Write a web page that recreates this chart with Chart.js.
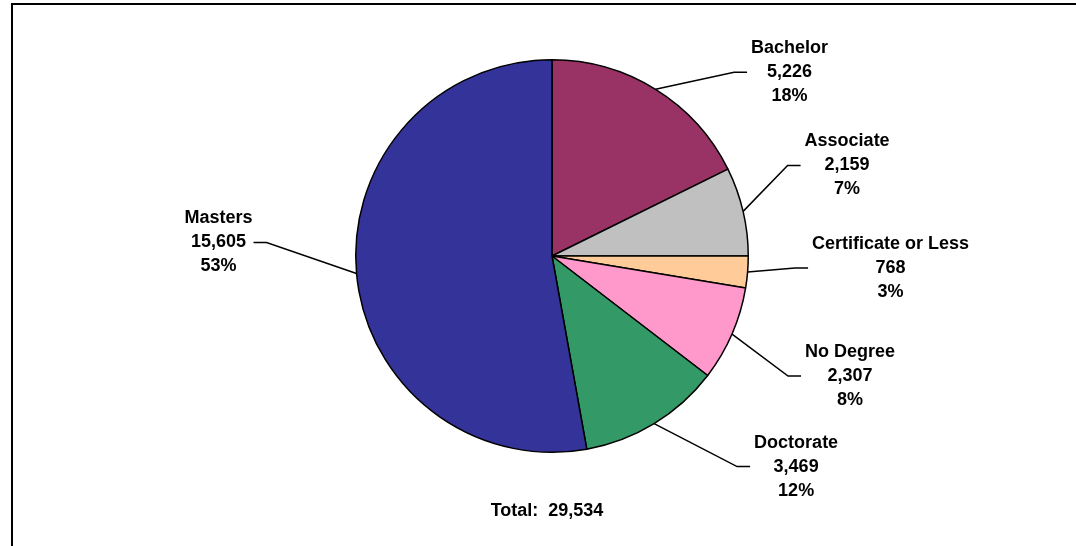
<!DOCTYPE html>
<html lang="en">
<head>
    <meta charset="UTF-8">
    <title>Degrees Awarded</title>
    <script src="https://cdn.jsdelivr.net/npm/chart.js"></script>
    <style>
        body { margin: 0; overflow: hidden; background: #fff; }
        .frame { position: absolute; left: 11px; top: 3px; width: 1100px; height: 600px; border: 2px solid #000; }
        .chart-box { position: absolute; left: 0; top: 0; width: 1076px; height: 546px; }
    </style>
</head>
<body>
<div class="frame"></div>
<div class="chart-box"><canvas id="degreePie" width="1076" height="546"></canvas></div>

<script>
// Data
const categories = ['Bachelor', 'Associate', 'Certificate or Less', 'No Degree', 'Doctorate', 'Masters'];
const counts = [5226, 2159, 768, 2307, 3469, 15605];
const sliceColors = ['#993366', '#C0C0C0', '#FFCC99', '#FF99CC', '#339966', '#333399'];

// where each label block sits, relative to the slice's outer edge (middle line centre)
const labelOffsets = [[134, -17], [104, -46], [143, -4], [118, 42], [142, 43], [-138, -31]];

const total = counts.reduce((a, b) => a + b, 0);

const labelPlugin = {
    id: 'pieLabels',
    afterDraw(chart) {
        const ctx = chart.ctx;
        const meta = chart.getDatasetMeta(0);
        ctx.save();
        ctx.font = 'bold 18px "Liberation Sans", Arial, sans-serif';
        ctx.fillStyle = '#000';
        ctx.strokeStyle = '#000';
        ctx.lineWidth = 1.5;
        ctx.textAlign = 'center';
        ctx.textBaseline = 'middle';
        const lineH = 24;

        meta.data.forEach((arc, i) => {
            const mid = (arc.startAngle + arc.endAngle) / 2;
            const ex = arc.x + Math.cos(mid) * arc.outerRadius;
            const ey = arc.y + Math.sin(mid) * arc.outerRadius;
            const tx = ex + labelOffsets[i][0];
            const ty = ey + labelOffsets[i][1];
            const lines = [
                categories[i],
                counts[i].toLocaleString('en-US'),
                Math.round(counts[i] / total * 100) + '%'
            ];
            const w = Math.max(...lines.map(s => ctx.measureText(s).width));
            const right = tx > ex;
            const stubEnd = right ? tx - w / 2 - 4 : tx + w / 2 + 1;
            const elbow = right ? stubEnd - 13 : stubEnd + 13;

            ctx.beginPath();
            ctx.moveTo(ex, ey);
            ctx.lineTo(elbow, ty);
            ctx.lineTo(stubEnd, ty);
            ctx.stroke();

            lines.forEach((s, k) => ctx.fillText(s, tx, ty + (k - 1) * lineH));
        });

        // total under the pie
        const area = chart.chartArea;
        ctx.fillText('Total:  ' + total.toLocaleString('en-US'), 547, area.bottom + 58);
        ctx.restore();
    }
};

new Chart(document.getElementById('degreePie').getContext('2d'), {
    type: 'pie',
    data: {
        labels: categories,
        datasets: [{
            data: counts,
            backgroundColor: sliceColors,
            borderColor: '#000',
            borderWidth: 1.5
        }]
    },
    options: {
        responsive: false,
        animation: false,
        layout: { padding: { left: 28, right: 0, top: 59, bottom: 93 } },
        plugins: {
            legend: { display: false },
            tooltip: { enabled: false }
        }
    },
    plugins: [labelPlugin]
});
</script>
</body>
</html>
